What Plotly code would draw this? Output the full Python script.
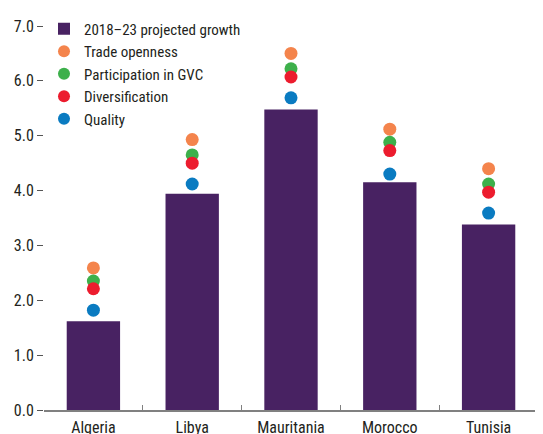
import plotly.graph_objects as go

countries = ["Algeria", "Libya", "Mauritania", "Morocco", "Tunisia"]
growth = [1.62, 3.94, 5.48, 4.15, 3.38]
trade_openness = [2.59, 4.93, 6.50, 5.12, 4.40]
gvc = [2.35, 4.65, 6.22, 4.88, 4.12]
diversification = [2.21, 4.50, 6.07, 4.73, 3.97]
quality = [1.82, 4.12, 5.69, 4.30, 3.59]

FONT = "Roboto Condensed, Liberation Sans Narrow, Arial Narrow, sans-serif"

fig = go.Figure()

fig.add_trace(go.Bar(
    x=countries, y=growth, name="2018–23 projected growth",
    marker=dict(color="#482262", line=dict(width=0)), width=0.54
))

dots = [
    ("Trade openness", trade_openness, "#F4844C"),
    ("Participation in GVC", gvc, "#3DB04B"),
    ("Diversification", diversification, "#EC1C2E"),
    ("Quality", quality, "#0A7BC1"),
]
for name, vals, color in dots:
    fig.add_trace(go.Scatter(
        x=countries, y=vals, name=name, mode="markers",
        marker=dict(color=color, size=13, line=dict(width=0))
    ))

# page body has an 8px default margin, so the figure is sized to fit the window
fig.update_layout(
    width=535, height=426,
    paper_bgcolor="white", plot_bgcolor="white",
    margin=dict(l=36, r=5, t=11, b=24),
    font=dict(family=FONT, size=16, color="#231f20"),
    showlegend=True,
    legend=dict(x=0.0, y=1.035, xanchor="left", yanchor="top",
                bgcolor="rgba(0,0,0,0)", font=dict(size=15),
                itemsizing="constant", tracegroupgap=0),
)

fig.update_xaxes(
    automargin=False,
    showline=True, linecolor="#808080", linewidth=1.5,
    ticks="inside", tickson="boundaries", ticklen=5, tickcolor="#808080",
    showgrid=False, tickfont=dict(size=16), ticklabelstandoff=2,
)
fig.update_yaxes(
    automargin=False,
    range=[0, 7], dtick=1, tickformat=".1f",
    showgrid=False, zeroline=False, showline=False,
    ticks="outside", ticklen=6, tickcolor="#555555", mirror="ticks",
    tickfont=dict(size=16),
)

fig.write_html("out.html")
